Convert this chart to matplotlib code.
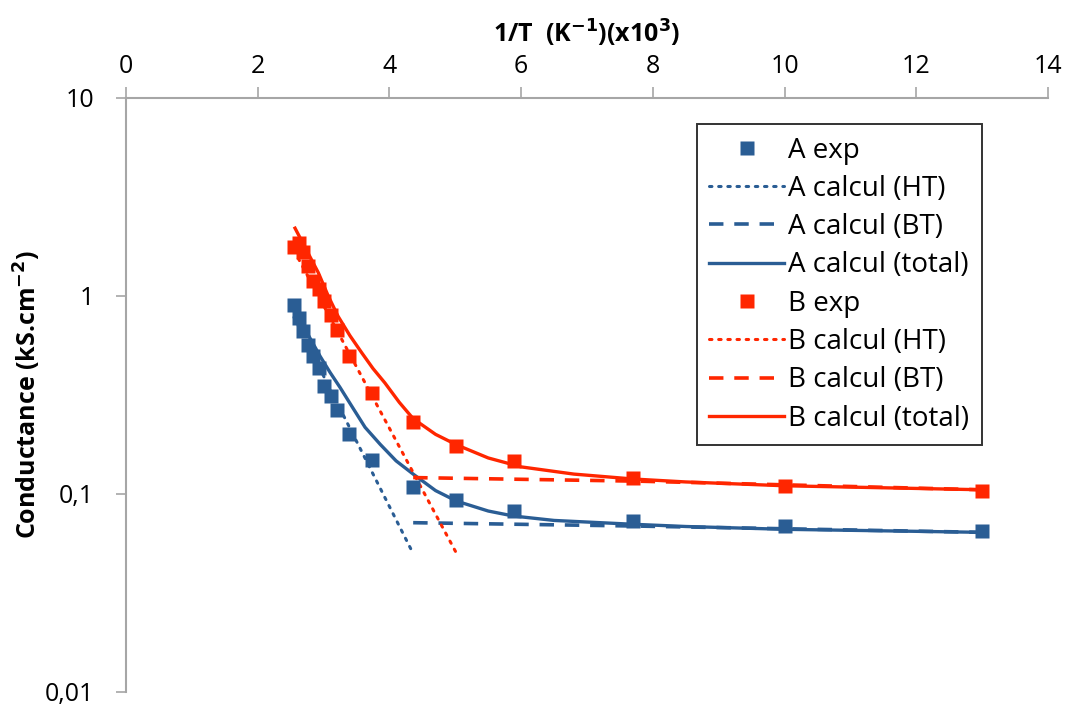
import numpy as np
import matplotlib
matplotlib.use('Agg')
import matplotlib.pyplot as plt
from matplotlib.ticker import FixedLocator, NullLocator

plt.rcParams['font.family'] = ['Open Sans', 'DejaVu Sans']

# 1/T (x10^3) des points experimentaux
x_exp = [2.55, 2.63, 2.69, 2.77, 2.84, 2.93, 3.01, 3.11, 3.21, 3.38, 3.73,
         4.36, 5.01, 5.89, 7.70, 10.0, 13.0]
a_exp = [0.90, 0.774, 0.668, 0.568, 0.496, 0.433, 0.35, 0.312, 0.265, 0.20,
         0.149, 0.109, 0.093, 0.082, 0.0728, 0.0687, 0.0647]
b_exp = [1.77, 1.86, 1.67, 1.42, 1.19, 1.08, 0.947, 0.805, 0.676, 0.50,
         0.322, 0.23, 0.174, 0.146, 0.12, 0.110, 0.103]

# courbes calculees
a_ht_x = [2.55, 4.36]
a_ht_y = [0.78, 0.05]
a_bt_x = [4.36, 7.70, 13.0]
a_bt_y = [0.0716, 0.0689, 0.064]
a_tot_x = [2.55, 2.75, 2.95, 3.1, 3.25, 3.45, 3.63, 3.86, 4.1, 4.36, 4.7, 5.02,
           5.5, 5.88, 6.5, 7.70, 8.5, 10.0, 13.0]
a_tot_y = [0.86, 0.65, 0.494, 0.41, 0.345, 0.27, 0.217, 0.178, 0.147, 0.126, 0.104, 0.092,
           0.082, 0.0774, 0.0735, 0.0703, 0.0685, 0.0663, 0.064]

b_ht_x = [2.55, 5.02]
b_ht_y = [1.70, 0.05]
b_bt_x = [4.36, 7.80, 13.0]
b_bt_y = [0.121, 0.116, 0.105]
b_tot_x = [2.566, 2.75, 2.92, 3.07, 3.22, 3.4, 3.58, 3.75, 3.93, 4.15, 4.36, 4.7, 5.02,
           5.5, 6.0, 6.8, 7.70, 8.5, 10.0, 13.0]
b_tot_y = [2.20, 1.68, 1.31, 1.0, 0.789, 0.63, 0.516, 0.43, 0.364, 0.29, 0.24, 0.2, 0.177,
           0.152, 0.137, 0.126, 0.119, 0.115, 0.110, 0.105]

blue = '#2a5d94'
red = '#ff2600'
grey = '#a6a6a6'

fig = plt.figure(figsize=(10.69, 7.13), dpi=100)
ax = fig.add_axes([0.1179, 0.0295, 0.8625, 0.8331])

ax.plot(x_exp, a_exp, 's', color=blue, ms=10.5, mec='none', label='A exp', zorder=5)
ax.plot(a_ht_x, a_ht_y, ':', color=blue, lw=2.2, label='A calcul (HT)', dashes=(0.8, 2.2), dash_capstyle='round')
ax.plot(a_bt_x, a_bt_y, '--', color=blue, lw=2.6, label='A calcul (BT)', dashes=(4, 3))
ax.plot(a_tot_x, a_tot_y, '-', color=blue, lw=2.4, label='A calcul (total)')
ax.plot(x_exp, b_exp, 's', color=red, ms=10.5, mec='none', label='B exp', zorder=5)
ax.plot(b_ht_x, b_ht_y, ':', color=red, lw=2.2, label='B calcul (HT)', dashes=(0.8, 2.2), dash_capstyle='round')
ax.plot(b_bt_x, b_bt_y, '--', color=red, lw=2.6, label='B calcul (BT)', dashes=(4, 3))
ax.plot(b_tot_x, b_tot_y, '-', color=red, lw=2.4, label='B calcul (total)')

ax.set_yscale('log')
ax.set_xlim(0, 14)
ax.set_ylim(0.01, 10)
ax.yaxis.set_major_locator(FixedLocator([0.01, 0.1, 1, 10]))
ax.yaxis.set_minor_locator(NullLocator())
ax.set_yticklabels(['0,01', '0,1', '1', '10'])
ax.set_xticks(range(0, 15, 2))

ax.xaxis.tick_top()
ax.xaxis.set_label_position('top')
for s in ['bottom', 'right']:
    ax.spines[s].set_visible(False)
for s in ['top', 'left']:
    ax.spines[s].set_color(grey)
    ax.spines[s].set_linewidth(1.5)
ax.tick_params(axis='x', colors=grey, labelcolor='black', length=8, width=1.2,
               labelsize=18, pad=6)
ax.tick_params(axis='y', colors=grey, labelcolor='black', length=7, width=1.2,
               labelsize=18, pad=16)

ax.set_xlabel('1/T  (K$^{\\mathbf{-1}}$)(x10$^{\\mathbf{3}}$)', fontsize=18, fontweight='bold', labelpad=8)
ax.set_ylabel('Conductance (kS.cm$^{\\mathbf{-2}}$)', fontsize=18, fontweight='bold', labelpad=1)

leg = ax.legend(loc='upper left', bbox_to_anchor=(0.619, 0.956), fontsize=20,
                frameon=True, fancybox=False, handlelength=2.7, labelspacing=0.37,
                borderpad=0.45, handletextpad=0.15, borderaxespad=0)
leg.get_frame().set_edgecolor('black')
leg.get_frame().set_linewidth(1.4)

fig.savefig('out.png', dpi=100)
